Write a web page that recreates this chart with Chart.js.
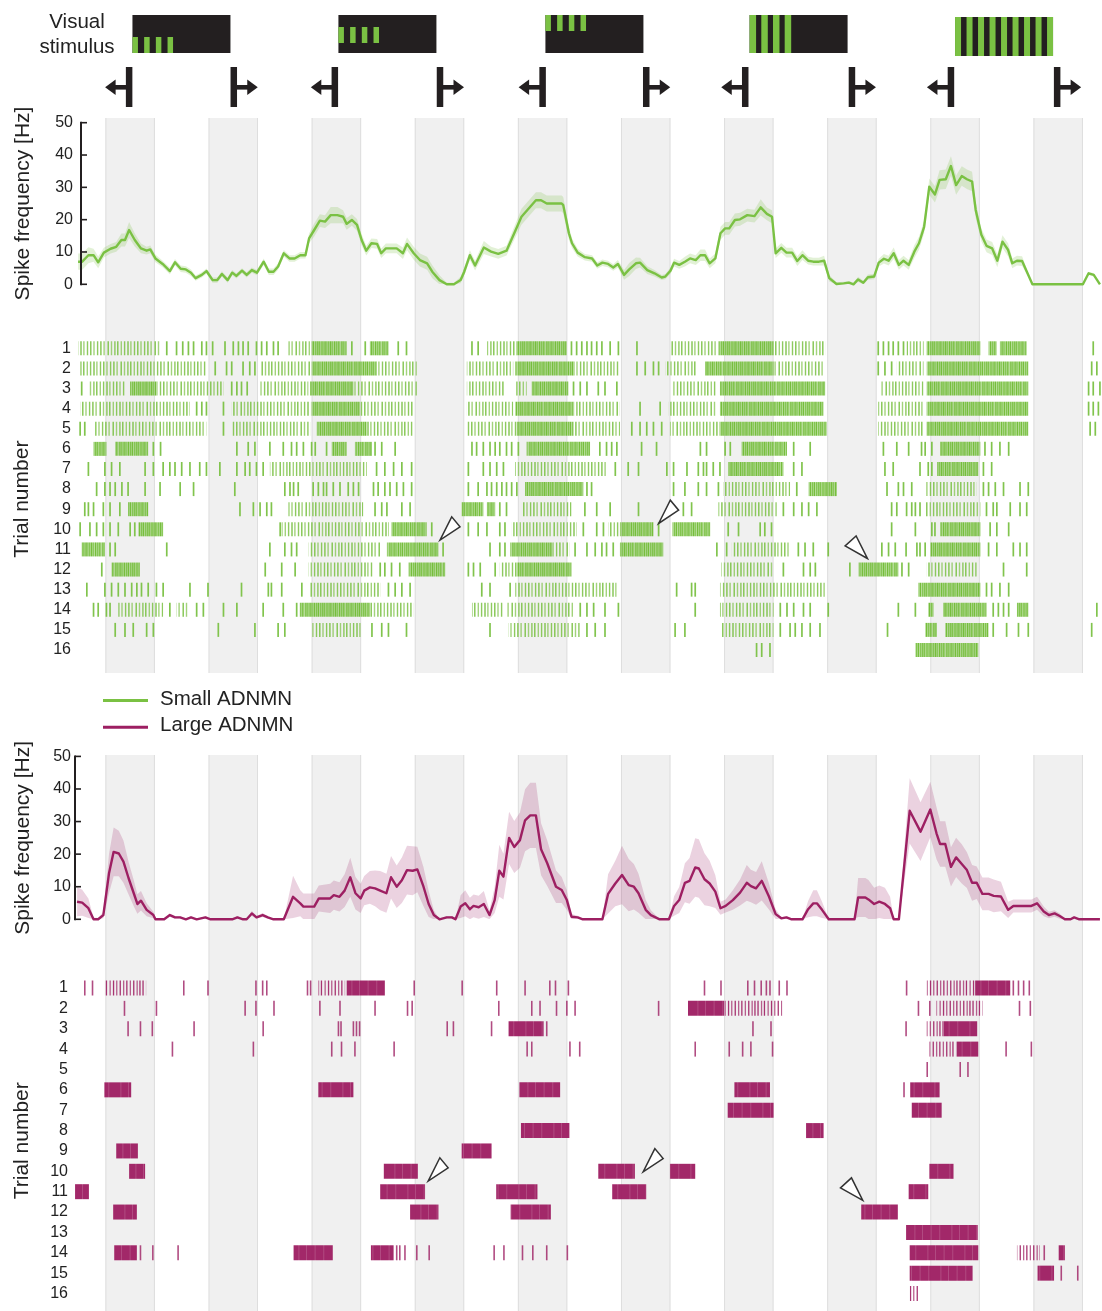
<!DOCTYPE html>
<html>
<head>
<meta charset="utf-8">
<title>ADNMN spike responses</title>
<script src="https://cdn.jsdelivr.net/npm/chart.js@4.4.1/dist/chart.umd.min.js"></script>
<style>
  html, body { margin: 0; padding: 0; background: #fff; }
  #figure { position: relative; width: 1102px; height: 1311px; overflow: hidden; background: #fff; }
  #figure canvas { position: absolute; left: 0; }
</style>
</head>
<body>
<div id="figure">
  <canvas id="smallRate" width="1102" height="335" style="top:0px"></canvas>
  <canvas id="smallRaster" width="1102" height="338" style="top:335px"></canvas>
  <canvas id="largeRate" width="1102" height="295" style="top:680px"></canvas>
  <canvas id="largeRaster" width="1102" height="336" style="top:975px"></canvas>
</div>
<script>
// ---------------- data ----------------
// time axis in s; grey epochs and stimulus on/off marks
const shadedEpochs = [[1,1.96],[3,3.96],[5,5.96],[7,7.96],[9,9.96],[11,11.96],[13,13.96],[15,15.96],[17,17.96],[19,19.96]];
const stimulusOn  = [1.46, 5.45, 9.48, 13.41, 17.40];
const stimulusOff = [3.49, 7.49, 11.49, 15.48, 19.46];
const stimulusField = ['lower', 'middle', 'upper', 'narrow', 'full'];
const rateTicks = [0, 10, 20, 30, 40, 50];
const trialNumbers = [1,2,3,4,5,6,7,8,9,10,11,12,13,14,15,16];
const traceLabels = ['Small ADNMN', 'Large ADNMN'];

// mean spike frequency [time, Hz, sem]
const smallTrace = [[0.47,7,2.5],[0.55,7,2.5],[0.67,9,2.5],[0.77,9,2],[0.86,6.8,1.8],[0.97,9.8,1.5],[1.10,11,1.5],[1.21,11.6,1.5],[1.31,13.7,2],[1.38,13.7,2],[1.46,16.8,2.5],[1.57,13.7,2],[1.69,11.1,1.5],[1.80,10.4,1.2],[1.87,10.8,1.2],[1.97,8,1.2],[2.11,6.3,1],[2.25,4.1,1],[2.35,6.8,1],[2.46,4.8,1],[2.56,4.6,1],[2.66,3.6,1],[2.75,1.9,0.8],[2.87,2.9,0.8],[2.96,4.1,0.8],[3.08,1.3,0.8],[3.17,1.3,0.8],[3.26,3.2,0.8],[3.37,1.3,0.8],[3.46,3.6,0.8],[3.54,2.6,0.8],[3.65,4.2,0.8],[3.74,2.9,0.8],[3.84,4.4,0.8],[3.94,3.6,0.8],[4.07,7,1],[4.17,3.9,1],[4.26,3.9,1],[4.35,5.5,1],[4.46,9.6,1],[4.57,8,1],[4.67,8,1],[4.78,9,1],[4.88,9,1],[4.95,14.2,1.5],[5.05,16.8,2],[5.16,19.7,2],[5.26,19.4,2],[5.37,21.4,2.5],[5.50,21.4,2.5],[5.61,20.9,2],[5.68,18.7,1.8],[5.78,19.9,1.8],[5.88,18.4,1.8],[5.97,13.7,1.8],[6.06,10.4,1.5],[6.16,12.7,1.5],[6.27,12.5,1.5],[6.35,9.6,1.5],[6.44,11.1,1.5],[6.65,11.1,1.5],[6.77,9.6,1.8],[6.85,12.5,2],[6.98,9.6,2],[7.10,7.5,2],[7.24,6.5,2],[7.34,3.9,2],[7.48,1.3,1.5],[7.62,0,0.5],[7.76,0,0.5],[7.89,1.3,1],[7.96,3.9,1.2],[8.07,9,1.5],[8.17,5.8,1.5],[8.34,11.4,2],[8.48,10.1,1.5],[8.62,9.4,1.5],[8.78,10.4,1.5],[8.93,15.8,2],[9.07,20.9,2.5],[9.24,24,2.5],[9.35,26,2.5],[9.45,26,2.5],[9.56,25,2.5],[9.85,25,2.5],[9.88,24.5,2.5],[9.99,15.8,2],[10.05,12.7,1.5],[10.16,9.8,1.2],[10.30,8.4,1],[10.44,8,1],[10.54,5.8,1],[10.64,6.7,1],[10.75,6.3,1],[10.85,5.2,1],[10.94,6.3,1.2],[11.06,2.9,1.5],[11.16,4.6,2],[11.29,6.5,1.8],[11.37,6.7,1.5],[11.51,4.4,1.2],[11.65,3.4,1],[11.79,2.1,0.8],[11.86,2.4,0.8],[11.96,4.2,1],[12.03,6.7,1.2],[12.13,6,1.2],[12.24,7,1.5],[12.34,8,1.5],[12.45,7.5,1.5],[12.54,9,1.8],[12.63,9,1.8],[12.72,6.5,1.5],[12.83,8,1.5],[12.93,15.8,2],[13.02,17.3,2],[13.10,17.3,2],[13.21,19.9,2],[13.31,20.1,2],[13.45,21.4,2],[13.59,21.1,2],[13.71,23.8,2.5],[13.83,21.8,2],[13.93,20.9,2],[14.00,9.6,1.5],[14.11,11.3,1.5],[14.21,9.8,1.5],[14.32,9.8,1.5],[14.42,7.2,1.5],[14.52,9,1.5],[14.63,7.3,1.2],[14.73,7,1.2],[14.84,7,1.2],[14.94,7.3,1.5],[15.04,1.9,1],[15.18,0.1,0.5],[15.32,0.3,0.5],[15.42,0.5,0.5],[15.51,0,0.5],[15.60,1.5,0.8],[15.70,0.5,0.6],[15.79,2.2,0.8],[15.91,2.4,0.8],[16.00,6.7,1.2],[16.10,7.9,1.5],[16.19,7.3,1.5],[16.29,9.6,1.8],[16.39,6,1.5],[16.48,7.3,1.5],[16.58,6,1.5],[16.69,10.1,2],[16.78,12.7,2],[16.88,17.8,2],[16.98,30.2,2.5],[17.09,27.8,2.5],[17.18,32.3,3],[17.30,32.5,3],[17.40,36.6,3],[17.50,30.7,3],[17.61,33.5,3],[17.71,32.5,3],[17.81,31.8,3],[17.88,23,2.5],[17.99,15.3,2],[18.09,11.9,2],[18.20,11.1,2],[18.30,7.3,2],[18.40,13.2,2],[18.51,10.6,2],[18.59,6.5,1.5],[18.68,7.3,1.5],[18.78,7.2,1.5],[18.98,0,0],[19.96,0,0],[20.07,3.4,0.5],[20.17,2.9,0.5],[20.29,0,0]];

const largeTrace = [[0.45,5.4,4.5],[0.55,5.1,4],[0.67,3.4,3],[0.77,0,0.5],[0.86,0,0.5],[0.96,1.3,1],[1.07,14.1,6],[1.16,20.7,7.5],[1.26,20.2,7],[1.35,17.7,6.5],[1.45,12.6,5],[1.55,8,4],[1.62,4.7,3],[1.69,5.7,3],[1.80,2.9,2],[1.93,1.3,1],[1.97,0,0],[2.14,0,0],[2.25,1.3,0.5],[2.35,0.6,0.4],[2.45,0.6,0.4],[2.56,0,0],[2.66,0.6,0.4],[2.77,0,0],[2.94,0.6,0.4],[3.04,0,0],[3.46,0,0],[3.56,0.6,0.4],[3.67,0,0],[3.74,0,0],[3.84,1.8,0.8],[3.93,0.6,0.4],[4.05,1.3,0.6],[4.15,0.6,0.4],[4.26,0,0],[4.46,0,0],[4.64,6.9,6.5],[4.78,4.9,4],[4.84,3.9,4],[5.05,3.9,4],[5.14,6.4,4],[5.36,6.4,4.5],[5.43,7.4,4.5],[5.54,6.9,4.5],[5.64,8.8,5],[5.75,12.9,6],[5.85,8,5],[5.95,6.4,4.5],[6.02,8.8,4.5],[6.13,9.8,5],[6.23,9.5,5.5],[6.33,8.8,6],[6.45,8,6],[6.54,12.9,6.5],[6.65,10,6.5],[6.75,12,7],[6.85,15.1,7.5],[6.96,14.9,7.5],[7.05,15.3,7],[7.17,10,6],[7.27,4.7,4],[7.37,1.3,1.5],[7.48,0,0],[7.62,0.6,0.4],[7.72,0.6,0.4],[7.79,0,0],[7.89,3.9,3.5],[7.98,4.9,4],[8.07,3.1,3.5],[8.14,4.1,3.5],[8.24,3.7,3.5],[8.34,4.7,4],[8.45,1.3,1.5],[8.55,5.9,4],[8.64,14.9,8],[8.72,13.1,7],[8.83,25,8],[8.93,22.2,8],[9.04,24.3,8.5],[9.14,30.4,9.5],[9.24,31.9,10],[9.35,31.9,10],[9.45,21.5,8],[9.57,17.2,7],[9.74,10,5],[9.85,9,4],[9.95,5.9,3],[10.04,0.8,0.8],[10.16,0.6,0.5],[10.26,0,0],[10.64,0,0],[10.75,7.8,6],[10.89,11,7],[11.02,13.6,9],[11.15,10.5,8],[11.25,10,7],[11.34,8,6],[11.48,2.9,3],[11.58,1.3,1.5],[11.75,0,0],[11.93,0,0],[12.03,4.1,3],[12.13,5.9,4],[12.24,11.2,6],[12.33,11.8,7],[12.44,15.9,9],[12.51,15.6,9],[12.62,12.3,8],[12.72,11,7],[12.83,8.5,5],[12.93,3.4,2],[13.03,4.1,2],[13.17,5.9,3],[13.31,8.2,4],[13.44,11.2,5.5],[13.52,10.2,5],[13.62,9.5,5],[13.73,11.8,6],[13.87,7,4],[14.00,1.6,1.5],[14.11,0.3,0.3],[14.21,0.6,0.4],[14.31,0,0],[14.52,0,0],[14.63,3.1,2.5],[14.73,4.9,4],[14.80,4.9,4],[14.90,2.9,2.5],[15.03,0,0],[15.53,0,0],[15.60,6.7,6],[15.74,6.7,6],[15.80,6.1,6],[15.91,4.7,5],[16.01,5.4,5],[16.12,4.7,5],[16.22,3.4,3.5],[16.29,0,0],[16.39,0,0],[16.60,33.3,10],[16.81,26.9,9],[17.00,33.7,8.5],[17.12,26.4,8],[17.19,23.1,7],[17.29,23.1,7],[17.40,16.1,6],[17.50,19,6],[17.61,17,6],[17.71,15.1,5.5],[17.81,11.2,5.5],[17.90,11.2,5],[18.01,7.8,5],[18.13,7.8,5],[18.23,7.2,5],[18.37,7,4.5],[18.51,2.9,2.5],[18.61,4.1,2],[18.96,4.1,2],[19.07,4.9,2],[19.20,2.4,1.5],[19.30,1.3,1],[19.41,1.8,1],[19.51,1,0.8],[19.61,0,0],[19.72,0,0],[19.79,0.6,0.3],[19.89,0,0],[20.29,0,0]];

// raster, Small ADNMN: isolated spikes per trial (s)
const smallSpikes = [
  [2.19,2.38,2.50,2.61,2.71,2.87,2.96,3.08,3.32,3.48,3.58,3.67,3.77,3.93,4.03,4.13,4.26,4.35,5.78,6.04,6.68,6.84,8.11,8.23,10.04,10.14,10.24,10.34,10.43,10.53,10.63,10.79,10.95,11.31,15.99,16.09,16.19,16.28,16.38,16.48,20.16],
  [3.13,3.35,3.45,3.67,3.80,3.90,11.31,11.47,11.63,11.73,15.99,16.12,16.25,20.13,20.23],
  [0.54,3.45,3.55,3.64,3.75,10.08,10.21,10.34,10.56,10.69,10.92,20.07,20.16,20.29],
  [2.77,2.87,2.96,3.29,11.37,11.76,20.07,20.16,20.26],
  [0.51,0.60,3.29,11.21,11.37,11.50,11.63,11.79,20.10,20.20],
  [1.93,2.07,3.55,3.77,3.90,4.19,4.45,4.61,4.71,4.84,5.00,5.07,5.29,6.23,6.36,6.62,8.11,8.20,8.33,8.46,8.56,8.65,8.78,8.88,9.01,10.59,10.72,10.82,10.92,11.40,11.69,12.54,12.66,13.02,13.12,14.35,14.67,16.09,16.35,16.58,16.83,16.90,17.03,18.06,18.19,18.35,18.52],
  [0.67,0.99,1.12,1.28,1.77,1.93,2.12,2.25,2.35,2.48,2.64,2.83,2.96,3.22,3.55,3.71,3.80,3.93,4.06,6.26,6.42,6.59,6.75,6.94,8.04,8.33,8.46,8.59,8.72,10.89,11.14,11.34,11.89,12.02,12.28,12.50,12.60,12.66,12.79,12.92,14.35,14.51,16.12,16.28,16.80,16.96,17.03,18.03,18.19],
  [0.83,0.99,1.09,1.19,1.32,1.44,1.77,2.06,2.45,2.71,3.51,4.48,4.58,4.65,4.74,5.03,5.13,5.23,5.29,5.42,5.55,5.71,5.81,5.91,6.20,6.29,6.42,6.52,6.65,6.78,6.94,8.04,8.23,8.40,8.49,8.59,8.69,8.78,8.88,8.98,10.34,10.43,12.02,12.24,12.50,12.66,12.89,14.41,16.16,16.38,16.48,16.64,18.03,18.13,18.26,18.42,18.74,18.90],
  [0.60,0.67,0.77,0.96,1.09,1.28,3.61,3.87,4.00,4.13,4.22,6.23,6.36,6.46,6.75,6.91,8.65,8.78,10.30,10.53,10.79,11.34,12.21,12.37,14.15,14.35,14.51,14.64,14.80,16.25,16.35,16.54,16.64,16.71,16.80,18.09,18.22,18.29,18.55,18.74,18.87],
  [0.51,0.70,0.83,0.96,1.09,1.25,1.48,1.57,4.39,7.33,8.04,8.23,8.40,8.65,8.75,10.27,10.53,10.66,11.73,13.08,13.28,13.70,13.79,13.92,16.25,16.71,17.03,17.09,18.16,18.29,18.52],
  [1.09,1.19,2.19,4.19,4.48,4.61,4.71,7.55,8.46,8.65,8.75,10.11,10.34,10.50,10.63,10.72,10.85,12.86,13.05,14.44,14.57,14.73,15.02,16.06,16.19,16.32,16.53,16.74,16.80,16.90,18.13,18.29,18.61,18.74,18.87],
  [0.93,4.10,4.42,4.68,6.33,6.42,6.55,6.71,8.04,8.14,8.27,8.56,14.15,14.54,14.67,14.77,15.44,16.45,16.58,18.42,18.87],
  [0.64,0.99,1.12,1.25,1.38,1.51,1.61,1.70,1.83,1.99,2.12,2.64,2.99,3.64,4.16,4.22,4.42,4.81,6.49,6.62,6.75,6.91,8.30,8.46,8.85,12.08,12.37,12.44,18.09,18.19,18.35,18.52],
  [0.77,0.86,1.02,1.09,2.25,2.77,2.90,3.29,3.55,4.06,4.45,4.71,10.21,10.34,10.47,10.69,10.95,12.44,14.09,14.22,14.35,14.54,14.67,15.02,16.38,16.71,18.22,18.32,18.42,18.52,20.23],
  [1.19,1.38,1.54,1.80,1.93,3.19,3.90,4.35,4.48,6.17,6.36,6.49,6.84,8.46,10.34,10.50,10.69,12.05,12.24,14.09,14.28,14.38,14.51,14.67,14.86,16.17,18.22,18.48,18.71,18.90,20.13],
  [13.63,13.73,13.89]
];
// spike trains (regular firing) per trial [start, end]
const smallTrains = [
  [[0.47,2.06],[4.55,4.97],[8.40,8.98],[11.97,12.92],[13.96,14.96],[16.54,16.87]],
  [[0.51,2.96],[4.00,4.97],[6.26,7.04],[8.01,8.91],[10.08,10.98],[11.86,12.47],[13.96,14.93],[16.35,16.87]],
  [[0.67,1.38],[1.99,3.29],[4.00,4.94],[5.81,7.04],[8.01,8.75],[8.95,9.17],[11.99,12.86],[16.03,16.87]],
  [[0.51,2.64],[3.45,4.97],[5.94,6.97],[8.01,8.91],[10.08,10.98],[11.92,12.86],[15.99,16.87]],
  [[0.80,2.96],[3.45,4.97],[6.07,6.97],[8.01,8.98],[10.08,10.98],[11.95,12.92],[15.99,16.87]],
  [],
  [[4.19,6.07],[8.95,10.72]],
  [[12.99,14.28],[16.90,17.90]],
  [[4.55,6.00],[9.08,10.04],[12.89,14.02],[16.90,17.97]],
  [[4.42,6.50],[8.88,10.14],[10.76,10.98]],
  [[4.94,6.33],[9.69,10.01],[13.15,14.28]],
  [[4.94,6.20],[8.65,8.98],[12.95,13.96],[16.93,17.90]],
  [[4.97,6.33],[8.95,10.92],[12.92,14.99]],
  [[1.25,2.12],[2.38,2.61],[6.13,6.97],[8.11,8.72],[8.78,10.08],[12.92,13.96]],
  [[5.00,5.97],[8.82,10.21],[12.95,13.96]],
  []
];
// high-frequency bursts per trial [start, end]
const smallBursts = [
  [[5.00,5.68],[6.13,6.49],[8.98,9.95],[12.92,13.96],[16.93,17.97],[18.13,18.29],[18.35,18.87]],
  [[5.00,6.26],[8.95,10.08],[12.63,13.96],[16.93,18.90]],
  [[1.48,1.99],[4.97,5.81],[9.27,9.98],[12.92,14.96],[16.93,18.90]],
  [[5.00,5.94],[8.95,10.08],[12.92,14.93],[16.93,18.90]],
  [[5.10,6.07],[8.98,10.08],[12.92,14.99],[16.93,18.90]],
  [[0.77,1.02],[1.19,1.83],[5.39,5.68],[5.84,6.17],[9.17,10.40],[13.34,14.22],[17.19,17.97]],
  [[13.08,14.15],[17.13,17.93]],
  [[9.14,10.27],[14.64,15.19]],
  [[1.44,1.83],[7.91,8.33],[8.40,8.56]],
  [[1.64,2.12],[6.55,7.23],[10.98,11.63],[12.00,12.73],[17.19,17.97]],
  [[0.54,0.99],[6.46,7.46],[8.85,9.69],[10.98,11.82],[17.00,17.97]],
  [[1.12,1.67],[6.88,7.59],[8.98,10.04],[15.61,16.38]],
  [[16.77,17.97]],
  [[4.77,6.13],[16.96,17.06],[17.25,18.09],[18.68,18.90]],
  [[16.90,17.13],[17.29,18.13]],
  [[16.71,17.93]]
];
// bursts pointed out by open arrowheads [time, trial, side]
const smallMarkers = [[7.49, 10.54, 'left'], [11.73, 9.71, 'left'], [15.78, 11.45, 'right']];

// raster, Large ADNMN
const largeSpikes = [
  [0.60,0.75,2.52,2.99,3.92,4.05,4.13,4.92,4.98,6.99,7.92,8.59,9.14,9.62,9.73,9.98,12.62,12.94,13.46,13.59,13.72,13.82,13.89,14.07,14.22,16.54,18.61,18.71,18.81,18.92],
  [1.37,1.99,3.71,3.92,4.27,5.16,5.55,6.23,6.86,6.95,8.63,9.27,9.43,9.75,9.95,10.11,11.73,16.77,16.99,18.73,18.94],
  [1.44,1.68,1.91,2.72,4.06,5.52,5.57,5.81,5.87,5.93,7.63,7.75,8.49,9.56,13.56,13.91,16.53],
  [2.30,3.87,5.39,5.58,5.84,6.60,9.18,9.27,10.01,10.20,12.44,13.10,13.36,13.52,13.94,18.47,18.96],
  [16.94,17.58,17.73],
  [16.49],
  [], [], [], [], [], [], [],
  [1.68,1.92,2.41,6.65,6.71,6.81,7.04,7.28,8.54,8.73,9.09,9.29,9.56,9.96,19.21],
  [19.54,19.86],
  []
];
const largeTrains = [
  [[0.99,1.79],[5.13,5.65],[16.93,17.87]],
  [[13.00,14.13],[17.12,18.02]],
  [[16.93,17.26]],
  [[16.98,17.48]],
  [], [], [], [], [], [], [], [], [],
  [[18.68,19.12]],
  [],
  [[16.60,16.80]]
];
const largeBursts = [
  [[5.68,6.42],[17.87,18.55]],
  [[12.30,13.00]],
  [[8.82,9.50],[17.26,17.91]],
  [[17.51,17.93]],
  [],
  [[0.98,1.50],[5.13,5.81],[9.03,9.82],[13.20,13.89],[16.61,17.18]],
  [[13.07,13.96],[16.64,17.22]],
  [[9.06,10.00],[14.59,14.93]],
  [[1.21,1.63],[7.91,8.49]],
  [[1.46,1.77],[6.40,7.06],[10.56,11.27],[11.95,12.44],[16.98,17.45]],
  [[0.41,0.68],[6.33,7.20],[8.58,9.38],[10.83,11.49],[16.58,16.96]],
  [[1.15,1.61],[6.91,7.46],[8.86,9.64],[15.66,16.37]],
  [[16.53,17.92]],
  [[1.17,1.61],[4.65,5.41],[6.15,6.59],[16.60,17.93],[19.49,19.61]],
  [[16.60,17.82],[19.08,19.40]],
  []
];
const largeMarkers = [[7.26, 10.48, 'left'], [11.43, 10.03, 'left'], [15.69, 11.43, 'right']];

// ---------------- styling ----------------
const FONT = "'Liberation Sans', Arial, Helvetica, sans-serif";
const TEXT = '#222222';
const INK = '#231f20';
const SMALL_COLOR = '#7ac143';
const LARGE_COLOR = '#9d1f62';
const SHADE = '#f0f0f0';
const SHADE_EDGE = '#dedede';
// horizontal layout of the time axis shared by all panels
const PX_ORIGIN = 53.85, PX_PER_UNIT = 51.55, X_MAX = 20.33;
const xMinFor = left => (left - PX_ORIGIN) / PX_PER_UNIT;

Chart.defaults.font.family = FONT;
Chart.defaults.color = TEXT;

// ---------------- plugins ----------------
function epochShading(top) {
  return {
    id: 'epochShading',
    beforeDatasetsDraw(chart) {
      const { ctx } = chart; const x = chart.scales.x;
      const bottom = chart.height;
      ctx.save();
      shadedEpochs.forEach(([s, e]) => {
        const a = x.getPixelForValue(s), b = x.getPixelForValue(e);
        ctx.fillStyle = SHADE;
        ctx.fillRect(a, top, b - a, bottom - top);
        ctx.strokeStyle = SHADE_EDGE; ctx.lineWidth = 1;
        ctx.beginPath();
        ctx.moveTo(a + 0.5, top); ctx.lineTo(a + 0.5, bottom);
        ctx.moveTo(b - 0.5, top); ctx.lineTo(b - 0.5, bottom);
        ctx.stroke();
      });
      ctx.restore();
    }
  };
}

function rateAxis(axisX) {
  return {
    id: 'rateAxis',
    afterDatasetsDraw(chart) {
      const { ctx } = chart; const y = chart.scales.y;
      ctx.save();
      ctx.strokeStyle = INK; ctx.lineWidth = 2;
      ctx.beginPath();
      ctx.moveTo(axisX, y.getPixelForValue(rateTicks[0]) + 1);
      ctx.lineTo(axisX, y.getPixelForValue(rateTicks[rateTicks.length - 1]) - 1);
      ctx.stroke();
      ctx.lineWidth = 1.6;
      rateTicks.forEach(v => {
        const p = y.getPixelForValue(v);
        ctx.beginPath(); ctx.moveTo(axisX, p); ctx.lineTo(axisX + 6, p); ctx.stroke();
      });
      ctx.restore();
    }
  };
}

function drawStimulusIcon(ctx, cx, field) {
  const w = 98, h = field === 'full' ? 39 : 38;
  const x0 = cx - w / 2, y0 = field === 'full' ? 17 : 15;
  ctx.fillStyle = INK;
  ctx.fillRect(x0, y0, w, h);
  ctx.fillStyle = SMALL_COLOR;
  if (field === 'full') {
    for (let i = 0; i < 9; i++) ctx.fillRect(x0 + i * 11.5, y0, 6, h);
  } else if (field === 'narrow') {
    for (let i = 0; i < 4; i++) ctx.fillRect(x0 + i * 11.7, y0, 6.5, h);
  } else {
    const off = { lower: 22, middle: 12, upper: 0 }[field];
    for (let i = 0; i < 4; i++) ctx.fillRect(x0 + i * 11.7, y0 + off, 5.5, 16);
  }
}

function drawBracketArrow(ctx, x, dir) {
  ctx.fillStyle = INK;
  ctx.fillRect(x - 3.25, 67, 6.5, 40);
  ctx.fillRect(dir < 0 ? x - 16 : x + 2, 85, 14, 4.6);
  ctx.beginPath();
  ctx.moveTo(x + dir * 24, 87.3);
  ctx.lineTo(x + dir * 13.5, 79.5);
  ctx.lineTo(x + dir * 13.5, 95.1);
  ctx.closePath();
  ctx.fill();
}

function stimulusHeader() {
  return {
    id: 'stimulusHeader',
    afterDraw(chart) {
      const { ctx } = chart; const x = chart.scales.x;
      ctx.save();
      ctx.fillStyle = TEXT;
      ctx.font = `20.5px ${FONT}`;
      ctx.textAlign = 'center'; ctx.textBaseline = 'middle';
      ctx.fillText('Visual', 77, 22);
      ctx.fillText('stimulus', 77, 47);
      stimulusOn.forEach((on, i) => {
        const a = x.getPixelForValue(on), b = x.getPixelForValue(stimulusOff[i]);
        drawStimulusIcon(ctx, (a + b) / 2, stimulusField[i]);
        drawBracketArrow(ctx, a, -1);
        drawBracketArrow(ctx, b, 1);
      });
      ctx.restore();
    }
  };
}

function traceLegend() {
  return {
    id: 'traceLegend',
    afterDraw(chart) {
      const { ctx } = chart;
      ctx.save();
      [[SMALL_COLOR, 20.5], [LARGE_COLOR, 47.3]].forEach(([color, y], i) => {
        ctx.strokeStyle = color; ctx.lineWidth = 3;
        ctx.beginPath(); ctx.moveTo(103, y); ctx.lineTo(148, y); ctx.stroke();
        ctx.fillStyle = TEXT; ctx.font = `20.5px ${FONT}`;
        ctx.textAlign = 'left'; ctx.textBaseline = 'middle';
        ctx.fillText(traceLabels[i], 160, y - 1.5);
      });
      ctx.restore();
    }
  };
}

function burstMarkers(markers) {
  return {
    id: 'burstMarkers',
    afterDatasetsDraw(chart) {
      const { ctx } = chart; const { x, y } = chart.scales;
      ctx.save();
      markers.forEach(([t, trial, side]) => {
        const px = x.getPixelForValue(t), py = y.getPixelForValue(trial);
        const corners = side === 'left' ? [[11.7, -23.3], [20, -13.3]] : [[-22.3, -12.6], [-11.3, -22.6]];
        ctx.beginPath();
        ctx.moveTo(px, py);
        corners.forEach(([dx, dy]) => ctx.lineTo(px + dx, py + dy));
        ctx.closePath();
        ctx.fillStyle = '#ffffff'; ctx.fill();
        ctx.strokeStyle = '#333333'; ctx.lineWidth = 1.5; ctx.lineJoin = 'miter'; ctx.stroke();
      });
      ctx.restore();
    }
  };
}

// ---------------- textures for spike trains / bursts ----------------
function stripeTile(width, height, background, lines, lineWidth, colors) {
  const c = document.createElement('canvas');
  c.width = width; c.height = height;
  const g = c.getContext('2d');
  if (background) { g.fillStyle = background; g.fillRect(0, 0, width, height); }
  lines.forEach((lx, i) => { g.fillStyle = colors[i % colors.length]; g.fillRect(lx, 0, lineWidth, height); });
  return c;
}
function rowPatterns(ctx, tile) {
  return trialNumbers.map(n => {
    const p = ctx.createPattern(tile, 'repeat');
    p.setTransform(new DOMMatrix().translate((n * 13) % tile.width, 0));
    return p;
  });
}
const smallTrainTile = stripeTile(47, 16, null,
  [0.5,3.8,7.2,10.1,13.6,16.9,20.3,23.2,26.8,30.1,33.3,36.9,40.2,43.4], 1.4,
  ['rgba(122,193,67,0.95)','rgba(122,193,67,0.7)','rgba(122,193,67,0.85)']);
const smallBurstTile = stripeTile(41, 16, 'rgba(122,193,67,0.55)',
  [0.3,2.2,4.5,6.4,8.8,10.9,12.8,15.1,17.2,19.0,21.4,23.5,25.3,27.7,29.8,31.6,34.0,36.1,38.2], 1.2,
  ['rgba(118,190,60,1)','rgba(118,190,60,0.8)']);
const largeTrainTile = stripeTile(43, 16, null,
  [0.4,3.9,6.8,10.5,13.9,17.1,20.6,24.0,27.2,30.7,34.1,37.5,40.3], 1.3,
  ['rgba(158,31,99,0.9)','rgba(158,31,99,0.7)']);
const largeBurstTile = stripeTile(37, 16, 'rgba(158,31,99,0.96)',
  [5.5,13.2,21.7,30.4], 0.8, ['rgba(255,255,255,0.2)']);

function segmentPoints(perTrial) {
  const pts = [];
  perTrial.forEach((segs, i) => segs.forEach(([s, e]) => {
    pts.push({ x: s, y: i + 1 }, { x: e, y: i + 1 }, { x: e, y: null });
  }));
  return pts;
}

// fixed-width left axis that does not ask for extra room above/below the plot
function pinAxis(width) {
  return s => { s.width = width; s.paddingTop = 0; s.paddingBottom = 0; };
}

// ---------------- chart builders ----------------
function buildRateChart(id, trace, lineColor, bandColor, frame, extra) {
  const mean = trace.map(([t, r]) => ({ x: t, y: r }));
  const upper = trace.map(([t, r, e]) => ({ x: t, y: r + e }));
  const lower = trace.map(([t, r, e]) => ({ x: t, y: Math.max(0, r - e) }));
  return new Chart(document.getElementById(id), {
    type: 'line',
    data: { datasets: [
      { data: mean, borderColor: lineColor, borderWidth: 2.4, pointRadius: 0, tension: 0, fill: false, clip: false, borderJoinStyle: 'round' },
      { data: upper, borderColor: 'rgba(0,0,0,0)', borderWidth: 0, pointRadius: 0, tension: 0, fill: '+1', backgroundColor: bandColor, clip: false },
      { data: lower, borderColor: 'rgba(0,0,0,0)', borderWidth: 0, pointRadius: 0, tension: 0, fill: false, clip: false }
    ]},
    options: {
      responsive: false, animation: false, devicePixelRatio: 1, events: [],
      layout: { autoPadding: false, padding: { left: 0, right: 0, top: frame.top, bottom: frame.bottom } },
      scales: {
        x: { type: 'linear', display: false, min: xMinFor(frame.left), max: X_MAX },
        y: {
          type: 'linear', min: 0, max: 50,
          afterFit: pinAxis(frame.left),
          afterBuildTicks: s => { s.ticks = rateTicks.map(v => ({ value: v })); },
          border: { display: false }, grid: { display: false, drawTicks: false },
          ticks: { color: TEXT, font: { family: FONT, size: 16 }, padding: frame.labelPad },
          title: { display: true, text: 'Spike frequency [Hz]', color: TEXT, font: { family: FONT, size: 21 }, padding: { top: 11, bottom: 0 } }
        }
      },
      plugins: { legend: { display: false }, tooltip: { enabled: false } }
    },
    plugins: [epochShading(frame.shadeTop), rateAxis(frame.axisX)].concat(extra)
  });
}

function buildRasterChart(id, spikes, trains, bursts, markers, frame, look) {
  const canvas = document.getElementById(id);
  const g = canvas.getContext('2d');
  const trainPatterns = rowPatterns(g, look.trainTile);
  const burstPatterns = rowPatterns(g, look.burstTile);
  const spikePoints = [];
  spikes.forEach((times, i) => times.forEach(t => spikePoints.push({ x: t, y: i + 1 })));
  const rowOf = c => Math.max(0, Math.min(15, Math.round(c.p0.parsed.y) - 1));
  return new Chart(canvas, {
    type: 'line',
    data: { datasets: [
      { data: spikePoints, showLine: false, pointStyle: 'line', pointRotation: 90,
        pointRadius: look.rowHeight / 2, pointBorderWidth: look.tickWidth,
        pointBorderColor: look.tickColor, pointBackgroundColor: look.tickColor, clip: false },
      { data: segmentPoints(trains), spanGaps: false, pointRadius: 0, tension: 0,
        borderWidth: look.rowHeight, borderCapStyle: 'butt', borderColor: trainPatterns[0],
        segment: { borderColor: c => trainPatterns[rowOf(c)] }, clip: false },
      { data: segmentPoints(bursts), spanGaps: false, pointRadius: 0, tension: 0,
        borderWidth: look.rowHeight, borderCapStyle: 'butt', borderColor: burstPatterns[0],
        segment: { borderColor: c => burstPatterns[rowOf(c)] }, clip: false }
    ]},
    options: {
      responsive: false, animation: false, devicePixelRatio: 1, events: [],
      layout: { autoPadding: false, padding: { left: 0, right: 0, top: frame.top, bottom: frame.bottom } },
      scales: {
        x: { type: 'linear', display: false, min: xMinFor(frame.left), max: X_MAX },
        y: {
          type: 'linear', reverse: true, min: 0.5, max: 16.5,
          afterFit: pinAxis(frame.left),
          afterBuildTicks: s => { s.ticks = trialNumbers.map(v => ({ value: v })); },
          border: { display: false }, grid: { display: false, drawTicks: false },
          ticks: { autoSkip: false, color: TEXT, font: { family: FONT, size: 16 }, padding: frame.labelPad },
          title: { display: true, text: 'Trial number', color: TEXT, font: { family: FONT, size: 21 }, padding: { top: 9.5, bottom: 0 } }
        }
      },
      plugins: { legend: { display: false }, tooltip: { enabled: false } }
    },
    plugins: [epochShading(0), burstMarkers(markers)]
  });
}

// ---------------- panels ----------------
buildRateChart('smallRate', smallTrace, SMALL_COLOR, 'rgba(122,193,67,0.22)',
  { left: 77, axisX: 81, labelPad: 4, top: 122.7, bottom: 50.7, shadeTop: 118 },
  [stimulusHeader()]);

buildRasterChart('smallRaster', smallSpikes, smallTrains, smallBursts, smallMarkers,
  { left: 77, labelPad: 6, top: 3.24, bottom: 12.94 },
  { trainTile: smallTrainTile, burstTile: smallBurstTile, rowHeight: 14, tickWidth: 1.7, tickColor: 'rgba(122,193,67,0.95)' });

buildRateChart('largeRate', largeTrace, LARGE_COLOR, 'rgba(157,31,98,0.2)',
  { left: 75, axisX: 75, labelPad: 4, top: 76.4, bottom: 55.7, shadeTop: 75 },
  [traceLegend()]);

buildRasterChart('largeRaster', largeSpikes, largeTrains, largeBursts, largeMarkers,
  { left: 74, labelPad: 6, top: 2.82, bottom: 7.3 },
  { trainTile: largeTrainTile, burstTile: largeBurstTile, rowHeight: 15, tickWidth: 1.6, tickColor: 'rgba(158,31,99,0.8)' });
</script>
</body>
</html>
